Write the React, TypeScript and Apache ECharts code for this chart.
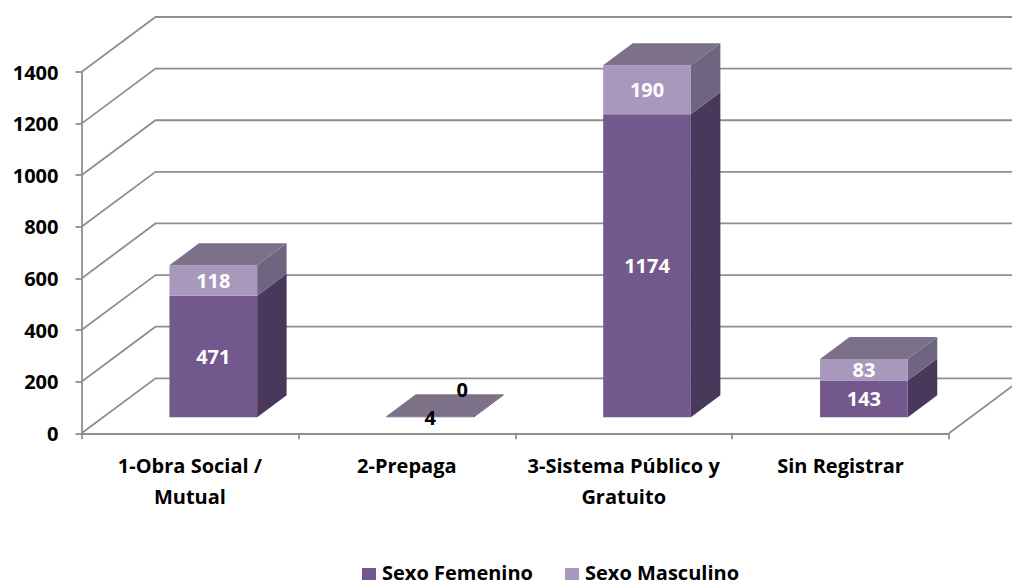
import React, { useEffect, useRef } from "react";
import * as echarts from "echarts";

const categories = ["1-Obra Social /\nMutual", "2-Prepaga", "3-Sistema Público y\nGratuito", "Sin Registrar"];
const sexoFemenino = [471, 4, 1174, 143];
const sexoMasculino = [118, 0, 190, 83];
const yTicks = [0, 200, 400, 600, 800, 1000, 1200, 1400];

const FONT = "'Open Sans', sans-serif";
const FONT_SIZE = 20;
const GRID = "#8f8f8f";
const LINE_W = 1.8;
const WALL_DX = 74;
const WALL_DY = -55;
const FLOOR_DY = -16;
const BAR_LEFT = -20.5;
const BAR_W = 87.7;
const SIDE_DX = 29.5;
const SIDE_DY = -22;

type Pal = { front: string; side: string; top?: string };

function barRenderer(pal: Pal) {
  return (_p: any, api: any) => {
    const i = api.value(0);
    const base = api.value(2);
    const val = api.value(1);
    const p0 = api.coord([i, base]);
    const p1 = api.coord([i, base + val]);
    const l = p0[0] + BAR_LEFT;
    const r = l + BAR_W;
    const yb = p0[1] + FLOOR_DY;
    const yt = p1[1] + FLOOR_DY;
    const children: any[] = [
      {
        type: "polygon",
        shape: { points: [[r, yb], [r + SIDE_DX, yb + SIDE_DY], [r + SIDE_DX, yt + SIDE_DY], [r, yt]] },
        style: { fill: pal.side },
      },
      { type: "rect", shape: { x: l, y: yt, width: BAR_W, height: yb - yt }, style: { fill: pal.front } },
    ];
    if (pal.top) {
      children.push({
        type: "polygon",
        shape: { points: [[l, yt], [l + SIDE_DX, yt + SIDE_DY], [r + SIDE_DX, yt + SIDE_DY], [r, yt]] },
        style: { fill: pal.top },
      });
    }
    return { type: "group", children };
  };
}

function labelRenderer(_p: any, api: any) {
  const i = api.value(0);
  const val = api.value(1);
  const base = api.value(2);
  const p0 = api.coord([i, base]);
  const p1 = api.coord([i, base + val]);
  const cx = p0[0] + BAR_LEFT + BAR_W / 2;
  const yb = p0[1] + FLOOR_DY;
  const yt = p1[1] + FLOOR_DY;
  const tiny = yb - yt < 3;
  return {
    type: "text",
    style: {
      text: String(val),
      x: cx + (val === 0 ? 32 : 0),
      y: (yb + yt) / 2 + (val === 0 ? -28 : 0) + (tiny ? 1 : 0),
      fill: tiny ? "#000000" : "#ffffff",
      font: `700 ${FONT_SIZE}px ${FONT}`,
      align: "center",
      verticalAlign: "middle",
    },
  };
}

function wallRenderer(_p: any, api: any) {
  const v = api.value(1);
  const c = api.coord([0, v]);
  const x0 = c[0] - api.size([1, 0])[0] / 2;
  return {
    type: "polyline",
    shape: { points: [[x0, c[1]], [x0 + WALL_DX, c[1] + WALL_DY], [api.getWidth(), c[1] + WALL_DY]] },
    style: { stroke: GRID, lineWidth: LINE_W, fill: "none" },
  };
}

function sideRenderer(_p: any, api: any) {
  const c = api.coord([3, 0]);
  const x1 = c[0] + api.size([1, 0])[0] / 2;
  return {
    type: "line",
    shape: { x1, y1: c[1], x2: x1 + WALL_DX, y2: c[1] + WALL_DY },
    style: { stroke: GRID, lineWidth: LINE_W },
  };
}

export default function App() {
  const ref = useRef<HTMLDivElement>(null);
  useEffect(() => {
    const chart = echarts.init(ref.current!, undefined, { renderer: "svg" });
    chart.setOption({
      animation: false,
      backgroundColor: "#ffffff",
      grid: { left: 81.5, right: 63, top: 72, bottom: 146.7, containLabel: false },
      legend: {
        left: 362,
        top: 562.5,
        padding: 0,
        itemWidth: 14,
        itemHeight: 14,
        itemGap: 32,
        icon: "rect",
        formatter: (name: string) => `{t|${name}}`,
        textStyle: {
          fontFamily: FONT,
          fontWeight: 700,
          fontSize: FONT_SIZE,
          color: "#000000",
          rich: {
            t: {
              fontFamily: FONT,
              fontWeight: 700,
              fontSize: FONT_SIZE,
              color: "#000000",
              lineHeight: 16,
              padding: [0, 0, 5, 1],
            },
          },
        },
        data: ["Sexo Femenino", "Sexo Masculino"],
      },
      xAxis: {
        type: "category",
        data: categories,
        axisLine: { lineStyle: { color: GRID, width: LINE_W } },
        axisTick: { show: true, length: 6, alignWithLabel: false, lineStyle: { color: GRID, width: LINE_W } },
        axisLabel: {
          fontFamily: FONT,
          fontWeight: 700,
          fontSize: FONT_SIZE,
          color: "#000000",
          margin: 17,
          lineHeight: 31,
          interval: 0,
        },
      },
      yAxis: {
        type: "value",
        min: 0,
        max: 1400,
        interval: 200,
        splitLine: { show: false },
        axisLine: { show: true, lineStyle: { color: GRID, width: LINE_W } },
        axisTick: { show: true, length: 6, lineStyle: { color: GRID, width: LINE_W } },
        axisLabel: {
          fontFamily: FONT,
          fontWeight: 700,
          fontSize: FONT_SIZE,
          color: "#000000",
          margin: 23,
          padding: [3, 0, 0, 0],
          formatter: (v: number) => String(v),
        },
      },
      series: [
        {
          type: "custom",
          name: "wall",
          silent: true,
          z: 1,
          renderItem: wallRenderer,
          encode: { x: 0, y: 1 },
          data: yTicks.map((t) => [0, t]),
        },
        {
          type: "custom",
          name: "side",
          silent: true,
          z: 1,
          renderItem: sideRenderer,
          encode: { x: 0, y: 1 },
          data: [[3, 0]],
        },
        {
          type: "custom",
          name: "Sexo Femenino",
          z: 3,
          itemStyle: { color: "#72588c" },
          renderItem: barRenderer({ front: "#72588c", side: "#49385c" }),
          encode: { x: 0, y: 1 },
          data: sexoFemenino.map((v, i) => [i, v, 0]),
        },
        {
          type: "custom",
          name: "Sexo Masculino",
          z: 4,
          itemStyle: { color: "#a898bc" },
          renderItem: barRenderer({ front: "#a898bc", side: "#6e6580", top: "#7d7189" }),
          encode: { x: 0, y: 1 },
          data: sexoMasculino.map((v, i) => [i, v, sexoFemenino[i]]),
        },
        {
          type: "custom",
          name: "labels",
          silent: true,
          z: 5,
          renderItem: labelRenderer,
          encode: { x: 0, y: 1 },
          data: [
            ...sexoFemenino.map((v, i) => [i, v, 0]),
            ...sexoMasculino.map((v, i) => [i, v, sexoFemenino[i]]),
          ],
        },
      ],
    });
    return () => chart.dispose();
  }, []);
  return <div ref={ref} style={{ position: "absolute", left: 0, top: 0, width: 1012, height: 580 }} />;
}
